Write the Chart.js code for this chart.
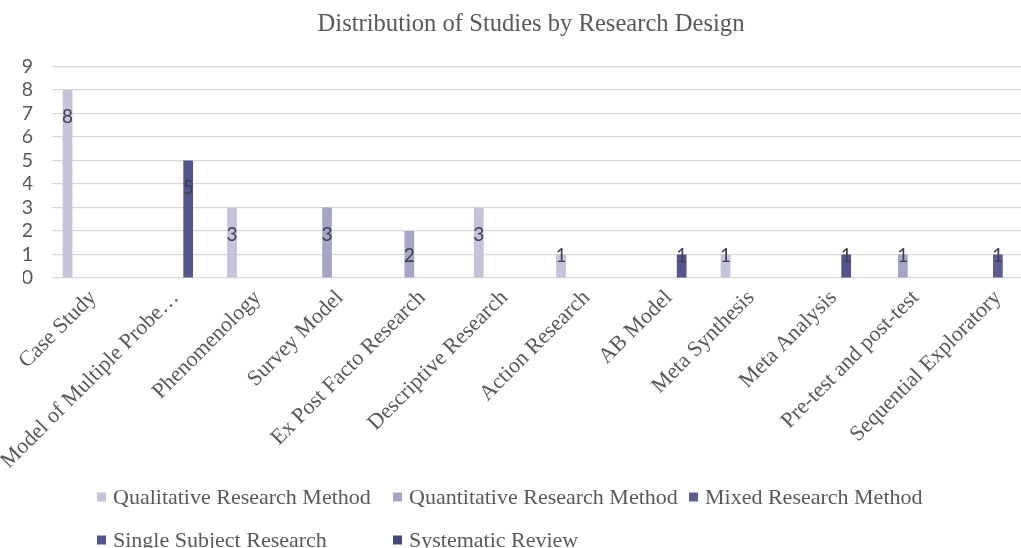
<!DOCTYPE html>
<html>
<head>
<meta charset="utf-8">
<script src="https://cdn.jsdelivr.net/npm/chart.js@4/dist/chart.umd.min.js"></script>
<style>
  html, body { margin: 0; padding: 0; background: #ffffff; overflow: hidden; width: 1021px; height: 548px; }
  #wrap { position: absolute; left: 0; top: 0; width: 1062px; height: 570px; }
</style>
</head>
<body>
<div id="wrap"><canvas id="chart"></canvas></div>
<script>
// ---- data ----
const categories = [
  "Case Study", "Model of Multiple Probe…", "Phenomenology", "Survey Model",
  "Ex Post Facto Research", "Descriptive Research", "Action Research", "AB Model",
  "Meta Synthesis", "Meta Analysis", "Pre-test and post-test", "Sequential Exploratory"
];
const seriesNames = [
  "Qualitative Research Method", "Quantitative Research Method", "Mixed Research Method",
  "Single Subject Research", "Systematic Review"
];
const qualitative   = [8, 0, 3, 0, 0, 3, 1, 0, 1, 0, 0, 0];
const quantitative  = [0, 0, 0, 3, 2, 0, 0, 0, 0, 0, 1, 0];
const mixed         = [0, 0, 0, 0, 0, 0, 0, 0, 0, 0, 0, 1];
const singleSubject = [0, 5, 0, 0, 0, 0, 0, 1, 0, 1, 0, 0];
const systematic    = [0, 0, 0, 0, 0, 0, 0, 0, 0, 0, 0, 0];
const yTicks = [0, 1, 2, 3, 4, 5, 6, 7, 8, 9];

// ---- styles ----
const colors = ["#c3c3d9", "#a5a5c6", "#5e5e92", "#56568f", "#46467a"];
const textGray = "#595959";
const serif = "'Liberation Serif', 'Times New Roman', serif";
const sans = "Lato, 'Open Sans', sans-serif";

const seriesValues = [qualitative, quantitative, mixed, singleSubject, systematic];
const datasets = seriesNames.map((name, i) => ({
  label: name,
  data: seriesValues[i],
  backgroundColor: colors[i],
  borderWidth: 0,
  categoryPercentage: 0.778,
  barPercentage: 0.76
}));

const valueLabels = {
  id: 'valueLabels',
  afterDatasetsDraw(chart) {
    const ctx = chart.ctx;
    ctx.save();
    ctx.font = "19px " + sans;
    ctx.fillStyle = "#3f3f4f";
    ctx.textAlign = "center";
    ctx.textBaseline = "middle";
    chart.data.datasets.forEach((ds, di) => {
      const meta = chart.getDatasetMeta(di);
      meta.data.forEach((bar, i) => {
        const v = ds.data[i];
        if (!v) return;
        const y = Math.min(bar.y + 27, bar.base - 21.5);
        ctx.fillText(String(v), bar.x, y);
      });
    });
    ctx.restore();
  }
};

const gridLegend = {
  id: 'gridLegend',
  afterDraw(chart) {
    const ctx = chart.ctx;
    const startX = 97, colW = 296, perRow = 3, rowsY = [497, 540], box = 9, gap = 7;
    ctx.save();
    ctx.font = "22px " + serif;
    ctx.textBaseline = "middle";
    ctx.textAlign = "left";
    chart.data.datasets.forEach((ds, i) => {
      const x = startX + (i % perRow) * colW;
      const y = rowsY[Math.floor(i / perRow)];
      ctx.fillStyle = ds.backgroundColor;
      ctx.fillRect(x, y - box / 2, box, box);
      ctx.fillStyle = textGray;
      ctx.fillText(ds.label, x + box + gap, y + 1);
    });
    ctx.restore();
  }
};

new Chart(document.getElementById('chart'), {
  type: 'bar',
  data: { labels: categories, datasets },
  plugins: [valueLabels, gridLegend],
  options: {
    responsive: true,
    maintainAspectRatio: false,
    animation: false,
    layout: { padding: { left: 23, right: 23, top: 0, bottom: 100 } },
    plugins: {
      legend: { display: false },
      tooltip: { enabled: false },
      title: {
        display: true,
        text: "Distribution of Studies by Research Design",
        color: textGray,
        font: { family: serif, size: 24.6, weight: 'normal' },
        padding: { top: 10, bottom: 27 }
      }
    },
    scales: {
      x: {
        grid: { display: false, drawTicks: false },
        border: { display: false },
        ticks: {
          autoSkip: false,
          maxRotation: 45,
          minRotation: 45,
          padding: 7,
          color: textGray,
          font: { family: serif, size: 22 }
        },
        afterFit(s) { s.height = 192; }
      },
      y: {
        min: 0,
        max: 9,
        afterBuildTicks(s) { s.ticks = yTicks.map(v => ({ value: v })); },
        grid: { color: "#d9d9d9", lineWidth: 1.2, drawTicks: false },
        border: { display: false },
        ticks: {
          autoSkip: false,
          stepSize: 1,
          padding: 19,
          color: textGray,
          font: { family: sans, size: 20 }
        },
        afterFit(s) { s.width = 29; }
      }
    }
  }
});
</script>
</body>
</html>
